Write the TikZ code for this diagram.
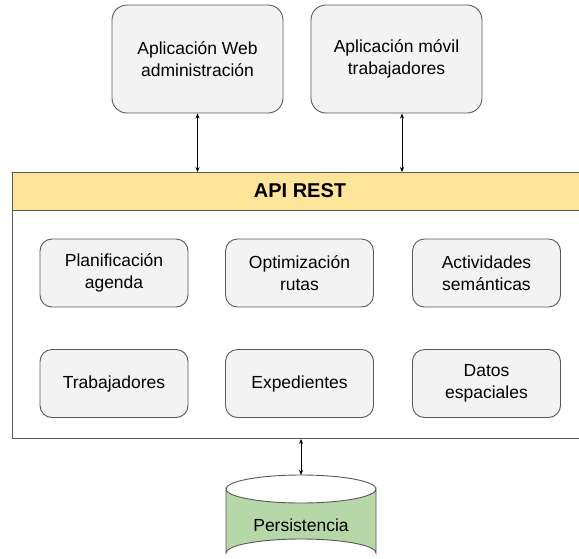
\documentclass[tikz,border=0pt]{standalone}
\usepackage{fontspec}
\setmainfont{Liberation Sans}
\usetikzlibrary{arrows.meta}

\definecolor{boxfill}{HTML}{F3F3F3}
\definecolor{boxline}{HTML}{595959}
\definecolor{headfill}{HTML}{FFE599}
\definecolor{dbfill}{HTML}{B6D7A8}

\tikzset{
  appbox/.style={draw=boxline, fill=boxfill, rounded corners=15pt, line width=0.9pt,
    minimum width=171pt, minimum height=108pt, align=center, inner sep=0pt},
  modbox/.style={draw=boxline, fill=boxfill, rounded corners=12pt, line width=0.9pt,
    minimum width=148pt, minimum height=68pt, align=center, inner sep=0pt},
  frame/.style={draw=boxline, line width=0.9pt, inner sep=0pt},
  link/.style={line width=0.7pt, {Stealth[length=5pt,width=4pt]}-{Stealth[length=5pt,width=4pt]}},
  lbl/.style={font=\fontsize{17.5}{21.5}\selectfont}
}

\begin{document}
\begin{tikzpicture}[x=1pt, y=-1pt]
  \clip (0,0) rectangle (579,558);
  \fill[white] (0,0) rectangle (579,558);

  % client applications
  \node[appbox, lbl] (webapp) at (197.5,59) {Aplicación Web\\administración};
  \node[appbox, lbl] (mobapp) at (396.5,59) {Aplicación móvil\\trabajadores};

  % API container: header band and body
  \node[frame, fill=headfill, anchor=north west, minimum width=578pt, minimum height=38pt]
    (apihead) at (12,172) {};
  \node[font=\bfseries\fontsize{20}{22}\selectfont] (apititle) at (300,191) {API REST};
  \node[frame, fill=white, anchor=north west, minimum width=578pt, minimum height=228pt]
    (apibody) at (12,210) {};

  % modules inside the API
  \node[modbox, lbl] (plan) at (114,273) {Planificación\\agenda};
  \node[modbox, lbl] (optim) at (299.5,273) {Optimización\\rutas};
  \node[modbox, lbl] (activ) at (486.5,273) {Actividades\\semánticas};
  \node[modbox, lbl] (trab) at (114,383.5) {Trabajadores};
  \node[modbox, lbl] (exped) at (299.5,383.5) {Expedientes};
  \node[modbox, lbl] (datos) at (486.5,383.5) {Datos\\espaciales};

  % persistence cylinder
  \draw[draw=boxline, fill=dbfill, line width=0.9pt]
    (226,489) -- (226,553) arc[start angle=180, end angle=360, x radius=75, y radius=14]
    -- (376,489) arc[start angle=0, end angle=180, x radius=75, y radius=14] -- cycle;
  \draw[draw=boxline, line width=0.9pt] (226,489) arc[start angle=180, end angle=360, x radius=75, y radius=14];
  \coordinate (dbtop) at (301,475);
  \node[lbl] (db) at (301,525) {Persistencia};

  % connectors
  \draw[link] (webapp.south) -- (webapp.south |- apihead.north);
  \draw[link] ([xshift=5.5pt]mobapp.south) -- ([xshift=5.5pt]mobapp.south |- apihead.north);
  \draw[link] (apibody.south -| dbtop) -- (dbtop);
\end{tikzpicture}
\end{document}
